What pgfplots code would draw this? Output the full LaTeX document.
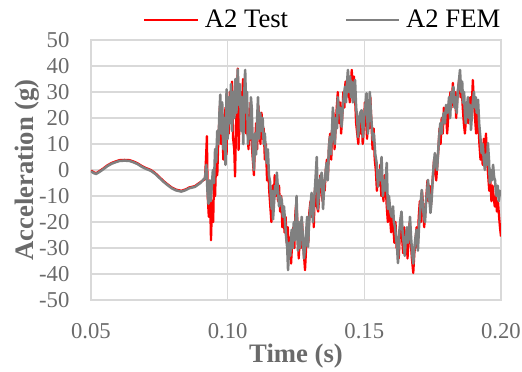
\documentclass[border=0pt]{standalone}
\usepackage{pgfplots}
\pgfplotsset{compat=1.18}
\usepackage{pgfplotstable}
\usepackage{fontspec}
\setmainfont{Liberation Serif}
\definecolor{tickgray}{HTML}{6A6A6A}
\definecolor{gridgray}{HTML}{D9D9D9}
\definecolor{femgray}{HTML}{808080}
\definecolor{testred}{HTML}{FF0000}

\pgfplotstableread{
t y
0.0500 -0.2
0.0510 -0.9
0.0519 -1.2
0.0530 -0.5
0.0545 0.6
0.0560 1.8
0.0575 2.7
0.0590 3.3
0.0605 3.8
0.0623 3.9
0.0640 3.8
0.0655 3.3
0.0670 2.6
0.0685 1.6
0.0700 0.8
0.0719 0.0
0.0735 -1.2
0.0750 -2.7
0.0765 -4.2
0.0780 -5.5
0.0795 -6.7
0.0810 -7.5
0.0830 -8.0
0.0845 -7.5
0.0860 -6.7
0.0880 -6.2
0.0900 -4.7
0.0917 -3.5
0.0921 5
0.0924 13
0.0927 -10
0.0931 -18
0.0935 -8
0.0939 -27
0.0943 -12
0.0947 -20
0.0950 -4
0.0954 -10
0.0958 5
0.0962 -2
0.0966 12
0.0970 20
0.0972 25
0.0976 10
0.0980 22
0.0984 4
0.0988 16
0.0992 24
0.0996 6
0.1000 26
0.1004 14
0.1008 30
0.1012 20
0.1016 34
0.1020 12
0.1024 8
0.1027 -2.5
0.1031 18
0.1035 30
0.1037 39
0.1040 7.7
0.1044 20
0.1048 30
0.1052 18
0.1056 35
0.1060 16
0.1064 30
0.1068 14
0.1072 24
0.1076 8
0.1080 16
0.1084 26
0.1088 10
0.1092 4
0.1096 -2
0.1100 10
0.1104 18
0.1108 8
0.1112 25
0.1116 18
0.1120 10
0.1124 22
0.1128 12
0.1132 16
0.1136 4
0.1140 10
0.1144 -4
0.1148 2
0.1152 -8
0.1156 -14
0.1160 -20
0.1164 -6
0.1168 -14
0.1172 -2
0.1176 -10
0.1180 -4
0.1184 -12
0.1188 -6
0.1192 -16
0.1196 -10
0.1200 -22
0.1204 -14
0.1208 -24
0.1212 -18
0.1216 -28
0.1220 -22
0.1224 -32
0.1228 -26
0.1232 -36
0.1236 -28
0.1240 -22
0.1244 -30
0.1248 -16
0.1252 -12
0.1256 -24
0.1260 -34
0.1264 -26
0.1268 -30
0.1272 -20
0.1276 -28
0.1280 -34
0.1283 -38.5
0.1287 -30
0.1291 -22
0.1295 -28
0.1299 -16
0.1303 -12
0.1307 -18
0.1311 -10
0.1315 -22
0.1319 -8
0.1323 -4
0.1327 -14
0.1331 -16
0.1335 -10
0.1339 -2
0.1343 -6
0.1347 -12
0.1351 -4
0.1355 -8
0.1359 0
0.1363 4
0.1367 -2
0.1371 10
0.1375 14
0.1379 4
0.1383 18
0.1387 22
0.1391 8
0.1395 16
0.1399 24
0.1403 30
0.1407 18
0.1411 26
0.1415 14
0.1419 20
0.1423 30
0.1427 24
0.1431 34
0.1435 28
0.1439 36
0.1443 30
0.1447 26
0.1451 34
0.1454 38.5
0.1458 30
0.1462 36
0.1466 28
0.1470 18
0.1474 14
0.1478 10
0.1482 20
0.1486 14
0.1490 22
0.1494 10
0.1498 16
0.1502 26
0.1506 20
0.1510 12
0.1514 24
0.1518 16
0.1522 28
0.1526 18
0.1530 8
0.1534 16
0.1538 4
0.1542 0
0.1546 -8
0.1550 -2
0.1554 -6
0.1558 2
0.1562 -10
0.1566 -4
0.1570 -12
0.1574 -2
0.1578 -6
0.1582 -14
0.1586 -20
0.1590 -12
0.1594 -18
0.1598 -24
0.1602 -16
0.1606 -22
0.1610 -28
0.1614 -20
0.1618 -30
0.1622 -26
0.1626 -34
0.1630 -24
0.1634 -18
0.1638 -26
0.1642 -32
0.1646 -22
0.1650 -30
0.1654 -24
0.1658 -34
0.1662 -26
0.1666 -20
0.1670 -28
0.1674 -34
0.1679 -39.6
0.1683 -32
0.1687 -28
0.1691 -22
0.1695 -30
0.1699 -18
0.1703 -12
0.1707 -20
0.1711 -8
0.1715 -14
0.1719 -22
0.1723 -16
0.1727 -10
0.1731 -4
0.1735 -12
0.1739 -6
0.1743 -14
0.1747 -8
0.1751 -2
0.1755 4
0.1759 0
0.1763 -4
0.1767 2
0.1771 8
0.1775 16
0.1779 10
0.1783 20
0.1787 14
0.1791 24
0.1795 18
0.1799 22
0.1803 14
0.1807 20
0.1811 26
0.1815 30
0.1819 24
0.1824 33.5
0.1828 26
0.1832 30
0.1836 20
0.1840 28
0.1844 32
0.1848 36
0.1852 28
0.1856 32
0.1860 24
0.1864 18
0.1868 14
0.1872 20
0.1876 26
0.1880 18
0.1884 24
0.1888 28
0.1892 22
0.1897 34.6
0.1901 26
0.1905 20
0.1909 14
0.1913 24
0.1917 18
0.1921 10
0.1925 4
0.1929 8
0.1933 2
0.1937 12
0.1941 6
0.1945 14
0.1949 4
0.1953 -2
0.1957 -8
0.1961 -4
0.1965 -12
0.1969 -6
0.1973 -10
0.1977 -14
0.1981 -10
0.1985 -16
0.1989 -12
0.1993 -18
0.1996 -21.8
0.2000 -25.6
}\testdata

\pgfplotstableread{
t y
0.0500 -0.5
0.0510 -1.2
0.0519 -1.5
0.0530 -0.8
0.0545 0.3
0.0560 1.5
0.0575 2.4
0.0590 3.0
0.0605 3.5
0.0623 3.6
0.0640 3.5
0.0655 3.0
0.0670 2.3
0.0685 1.3
0.0700 0.5
0.0719 -0.3
0.0735 -1.5
0.0750 -3.0
0.0765 -4.5
0.0780 -5.8
0.0795 -7.0
0.0810 -7.8
0.0830 -8.3
0.0845 -7.8
0.0860 -7.0
0.0880 -6.5
0.0900 -5.0
0.0917 -3.0
0.0922 2
0.0926 -8
0.0930 -13
0.0934 -4
0.0938 -12
0.0942 -6
0.0946 0
0.0950 -5
0.0954 8
0.0958 3
0.0962 15
0.0966 10
0.0970 22
0.0973 29
0.0976 14
0.0980 26
0.0984 8
0.0988 20
0.0992 2
0.0996 31
0.1000 12
0.1004 28
0.1008 18
0.1012 33
0.1016 15
0.1020 30
0.1024 20
0.1028 35
0.1032 22
0.1037 38.7
0.1041 25
0.1045 33
0.1049 15
0.1053 28
0.1057 10
0.1061 30
0.1064 38.5
0.1068 22
0.1071 30
0.1074 10
0.1078 20
0.1082 12
0.1085 28
0.1088 24
0.1092 8
0.1096 0
0.1100 14
0.1104 6
0.1108 20
0.1111 28
0.1115 12
0.1119 22
0.1124 15
0.1128 20
0.1132 10
0.1136 14
0.1140 6
0.1143 2.7
0.1147 8
0.1151 -2
0.1155 -4.5
0.1158 -10
0.1161 -15
0.1164 -8
0.1166 -19
0.1170 -12
0.1174 -6
0.1177 -9
0.1180 -1
0.1184 -8
0.1188 -14
0.1192 -10
0.1198 -11.5
0.1202 -18
0.1206 -14
0.1210 -20
0.1214 -26
0.1218 -30
0.1221 -38.5
0.1225 -28
0.1229 -33
0.1234 -23
0.1238 -30
0.1242 -20
0.1246 -27
0.1252 -10
0.1257 -31
0.1261 -20
0.1264 -30
0.1268 -22
0.1271 -18
0.1275 -26
0.1279 -34
0.1283 -30
0.1287 -24
0.1291 -18
0.1294 -29.5
0.1298 -20
0.1303 -14
0.1307 -8.8
0.1312 -20
0.1316 -12
0.1320 -6
0.1326 5
0.1330 -15
0.1334 -8
0.1338 -4
0.1344 -1
0.1349 -15
0.1353 -6
0.1357 -2
0.1362 2.7
0.1366 -4
0.1370 8
0.1374 12.8
0.1378 6
0.1382 16
0.1385 24
0.1389 14
0.1392 10
0.1396 20
0.1400 16
0.1403 28
0.1407 22
0.1411 24
0.1417 16.7
0.1421 24
0.1425 28
0.1429 32
0.1433 26
0.1437 34
0.1440 38.5
0.1444 30
0.1448 36
0.1451 28
0.1454 34
0.1458 26
0.1462 32
0.1466 34.6
0.1470 24
0.1474 20
0.1477 12.7
0.1481 18
0.1485 22
0.1490 23
0.1495 12.7
0.1499 20
0.1503 24
0.1508 29.5
0.1513 14
0.1517 22
0.1520 30
0.1524 22
0.1528 16
0.1531 11.5
0.1535 14
0.1540 6
0.1545 2.7
0.1550 -6.4
0.1555 0
0.1559 -4
0.1563 5
0.1568 -10
0.1572 -4
0.1576 -8
0.1582 2.7
0.1586 -15
0.1590 -10
0.1595 -16
0.1600 -18
0.1605 -14
0.1608 -20
0.1612 -21.8
0.1616 -26
0.1620 -30
0.1623 -35.8
0.1627 -25
0.1631 -20
0.1636 -16
0.1640 -24
0.1644 -28
0.1648 -33
0.1652 -26
0.1656 -22
0.1660 -28
0.1664 -24
0.1667 -18
0.1671 -26
0.1675 -32
0.1679 -36
0.1683 -30
0.1687 -26
0.1691 -23
0.1696 -31
0.1700 -22
0.1705 -14
0.1710 -7.7
0.1714 -14
0.1718 -18
0.1722 -20
0.1726 -12
0.1730 -8
0.1733 -3.8
0.1737 -10
0.1742 -16.5
0.1746 -12
0.1750 -4
0.1754 2
0.1758 6.5
0.1762 2
0.1766 0
0.1769 5
0.1773 12
0.1778 18
0.1783 14
0.1787 20
0.1791 22
0.1795 18
0.1799 25
0.1803 22
0.1806 23
0.1810 28
0.1814 20
0.1818 30
0.1822 26
0.1826 32
0.1830 24
0.1834 28
0.1838 22
0.1842 30
0.1846 34
0.1850 38.5
0.1854 30
0.1858 34
0.1861 25.8
0.1865 30
0.1868 22
0.1871 18
0.1875 24
0.1879 28
0.1883 20
0.1887 25
0.1890 15.4
0.1894 22
0.1897 26
0.1901 30
0.1905 24
0.1908 28
0.1911 22
0.1916 27
0.1920 18
0.1925 12
0.1929 6.5
0.1933 10
0.1937 4
0.1941 0
0.1945 6
0.1949 2
0.1952 10.4
0.1956 4
0.1959 -5
0.1963 0
0.1967 -4
0.1971 2
0.1975 -3
0.1978 -3.8
0.1981 -8
0.1984 -10
0.1988 -6
0.1992 -12
0.1996 -8
0.2000 -10
}\femdata

\begin{document}
\begin{tikzpicture}
\begin{axis}[
  name=ax,
  width=307.5pt, height=195pt, scale only axis,
  xmin=0.05, xmax=0.20, ymin=-50, ymax=50,
  xtick={0.05,0.10,0.15,0.20},
  ytick distance=10,
  scaled x ticks=false,
  xticklabel style={/pgf/number format/fixed, /pgf/number format/fixed zerofill, /pgf/number format/precision=2},
  /pgf/number format/assume math mode=true,
  major tick length=0pt,
  grid=major,
  major grid style={gridgray, line width=1.1pt},
  axis line style={draw=gridgray, line width=1.1pt},
  tick label style={font=\fontsize{17}{20}\selectfont, text=tickgray},
  yticklabel style={anchor=east, inner sep=0pt, xshift=-16pt},
  xticklabel style={anchor=north, inner sep=0pt, yshift=-17pt},
  xlabel={\textbf{Time (s)}},
  ylabel={\textbf{Acceleration (g)}},
  label style={font=\fontsize{20}{24}\selectfont, text=tickgray},
  xlabel style={at={([yshift=-42pt]axis description cs:0.5,0)}, anchor=center},
  ylabel style={at={([xshift=-48pt]axis description cs:0,0.5)}, anchor=center},
  legend style={at={(0.127,1.077)}, anchor=west, draw=none, fill=none,
    font=\fontsize{20}{24}\selectfont, text=black,
    legend columns=2, inner sep=0pt,
    nodes={inner xsep=4.5pt, inner ysep=0pt},
    /tikz/every even column/.append style={column sep=38pt}},
  legend image code/.code={\draw[#1, line width=1.6pt] (0pt,0pt) -- (40pt,0pt);},
  clip=true,
]
\addplot[testred, line width=1.7pt, line join=round] table[x=t,y=y] {\testdata};
\addlegendentry{A2 Test}
\addplot[femgray, line width=1.9pt, line join=round] table[x=t,y=y] {\femdata};
\addlegendentry{A2 FEM}
\end{axis}
\pgfresetboundingbox
\path ([shift={(-68.25pt,-53.25pt)}]ax.south west) rectangle ([shift={(15.75pt,30pt)}]ax.north east);
\end{tikzpicture}
\end{document}
